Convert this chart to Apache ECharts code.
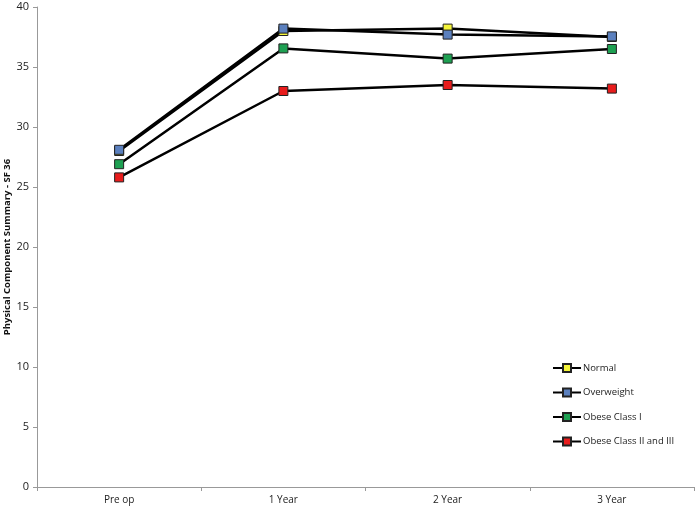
<!DOCTYPE html>
<html>
<head>
<meta charset="utf-8">
<script src="https://cdn.jsdelivr.net/npm/echarts@6/dist/echarts.min.js"></script>
<style>html,body{margin:0;padding:0;background:#fff}#c{width:697px;height:509px}</style>
</head>
<body>
<div id="c"></div>
<script>
var categories = ['Pre op', '1 Year', '2 Year', '3 Year'];
var seriesNames = ['Normal', 'Overweight', 'Obese Class I', 'Obese Class II and III'];
var normal = [28.0, 38.0, 38.2, 37.5];
var overweight = [28.1, 38.2, 37.7, 37.55];
var obese1 = [26.9, 36.55, 35.7, 36.5];
var obese23 = [25.8, 33.0, 33.5, 33.2];
var yTicks = [0, 5, 10, 15, 20, 25, 30, 35, 40];
var colors = ['#f5f53a', '#5b80be', '#1ea052', '#e81c1c'];

var dataSets = [normal, overweight, obese1, obese23];
var font = 'Open Sans';
var chart = echarts.init(document.getElementById('c'));
chart.setOption({
  animation: false,
  backgroundColor: '#fff',
  grid: {left: 37, right: 3, top: 7, bottom: 22, containLabel: false, outerBoundsMode: 'none'},
  xAxis: {
    type: 'category',
    data: categories,
    boundaryGap: true,
    axisLine: {lineStyle: {color: '#999', width: 1}},
    axisTick: {show: true, length: 4, lineStyle: {color: '#999'}},
    axisLabel: {color: '#222', fontSize: 10, fontFamily: font, margin: 8}
  },
  yAxis: {
    type: 'value',
    min: yTicks[0], max: yTicks[yTicks.length - 1], interval: 5,
    name: 'Physical Component Summary - SF 36',
    nameLocation: 'middle',
    nameGap: 24.5,
    nameMoveOverlap: false,
    nameTextStyle: {color: '#111', fontSize: 9.5, fontWeight: 'bold', fontFamily: font},
    axisLine: {show: true, lineStyle: {color: '#999', width: 1}},
    axisTick: {show: true, length: 4, lineStyle: {color: '#999'}},
    axisLabel: {color: '#222', fontSize: 11, fontFamily: font, margin: 8},
    splitLine: {show: false}
  },
  legend: {
    orient: 'vertical',
    left: 547,
    top: 358,
    itemGap: 14.5,
    itemWidth: 28,
    itemHeight: 10,
    textStyle: {color: '#222', fontSize: 9.5, fontFamily: font, padding: [0, 0, 0, -3]},
    data: seriesNames
  },
  series: dataSets.map(function (d, i) {
    return {
      name: seriesNames[i],
      type: 'line',
      data: d,
      symbol: 'rect',
      symbolSize: 9,
      z: 2 + i,
      lineStyle: {color: '#000', width: 2.5},
      itemStyle: {color: colors[i], borderColor: '#222', borderWidth: 1}
    };
  })
});
</script>
</body>
</html>
